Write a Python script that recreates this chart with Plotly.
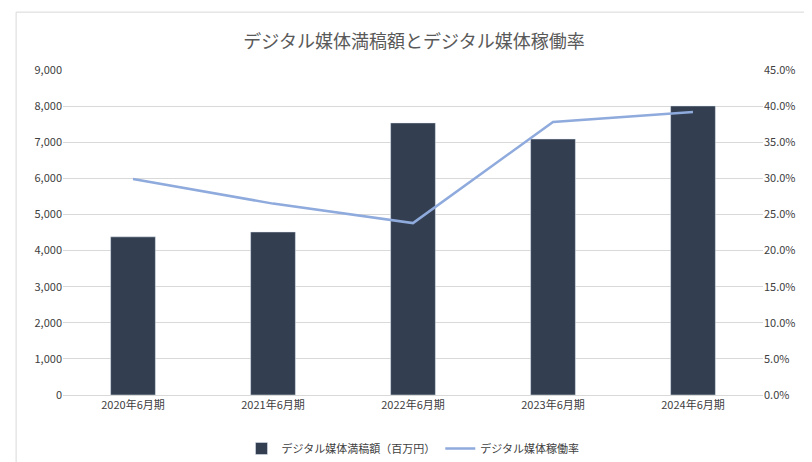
import plotly.graph_objects as go

categories = ["2020年6月期", "2021年6月期", "2022年6月期", "2023年6月期", "2024年6月期"]
amount = [4380, 4515, 7535, 7090, 8005]
rate = [29.9, 26.5, 23.8, 37.8, 39.2]

font = "Noto Sans CJK JP"
fig = go.Figure()
fig.add_bar(x=categories, y=amount, name="デジタル媒体満稿額（百万円）", marker_color="#333F50")
fig.add_scatter(x=categories, y=rate, name="デジタル媒体稼働率", yaxis="y2", mode="lines",
                line=dict(color="#8FAADC", width=2.5))
fig.update_layout(
    width=812, height=462, paper_bgcolor="white", plot_bgcolor="white",
    margin=dict(l=55, r=57, t=62, b=75, autoexpand=False),
    font=dict(family=font, size=11, color="#404040"),
    title=dict(text="デジタル媒体満稿額とデジタル媒体稼働率", x=0.5, y=0.94, xanchor="center",
               font=dict(size=18, color="#595959")),
    bargap=0.68,
    xaxis=dict(showline=True, linecolor="#D9D9D9", ticks="", tickfont=dict(color="#404040")),
    yaxis=dict(range=[0, 9000], dtick=1000, tickformat=",", gridcolor="#D9D9D9", zeroline=False,
               tickfont=dict(color="#404040")),
    yaxis2=dict(range=[0, 45], dtick=5, overlaying="y", side="right", showgrid=False,
                ticksuffix="%", tickformat=".1f", zeroline=False, tickfont=dict(color="#404040")),
    legend=dict(orientation="h", x=0.5, xanchor="center", y=-0.12, yanchor="top",
                font=dict(size=11, color="#404040"), bgcolor="rgba(0,0,0,0)"),
    shapes=[dict(type="rect", xref="paper", yref="paper", x0=-0.067, x1=1.069, y0=-0.209, y1=1.178,
                 line=dict(color="#D9D9D9", width=1), layer="below")],
)
fig.write_html("out.html")
